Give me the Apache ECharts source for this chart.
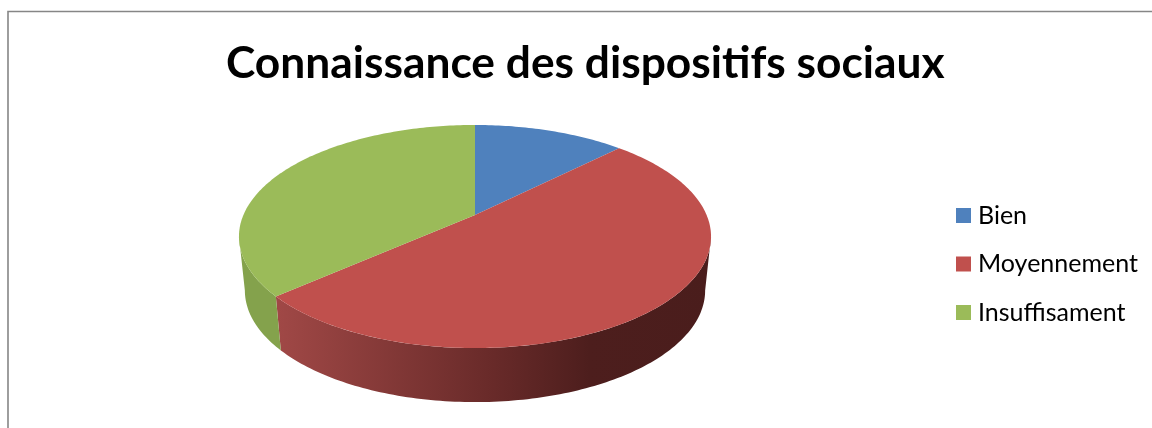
<!DOCTYPE html>
<html lang="fr">
	<head>
		<meta charset="utf-8">
		<title>Connaissance des dispositifs sociaux</title>
	</head>
	<style type="text/css">
		* {
			margin: 0;
			padding: 0;
		}

		#chart-container {
			position: relative;
			width: 1152px;
			height: 428px;
			overflow: hidden;
			background: #fff;
		}
	</style>
	<body>
		<div id="chart-container"></div>
		<script src="https://fastly.jsdelivr.net/npm/echarts@6/dist/echarts.min.js"></script>
	</body>
	<script type="text/javascript">
		var chartTitle = "Connaissance des dispositifs sociaux";
		var categories = ["Bien", "Moyennement", "Insuffisament"];
		var values = [12.5, 51, 36.5];

		var topColors = ["#4f81bd", "#c0504d", "#9bbb59"];
		var wallStops = [
			[[0, "#3f6694"], [1, "#3f6694"]],
			[[0, "#a04846"], [0.5, "#682a29"], [0.72, "#4d1e1d"], [1, "#4a1d1c"]],
			[[0, "#84a24c"], [0.1, "#7c9946"], [1, "#7c9946"]],
		];

		// perspective view of the disc, in pixels
		var cx = 475, apexY = 215;
		var persp = 0.193, radX = 231.6, radY = 107.4;
		var depth = 54, shrink = 0.975;

		var total = values.reduce(function(a, b) {
			return a + b;
		}, 0);

		function rimPoint(deg) {
			var t = deg * Math.PI / 180;
			var u = Math.sin(t), v = Math.cos(t);
			var w = 1 + persp * v;
			return [cx + radX * u / w, apexY - radY * v / w];
		}

		function wallPoint(deg) {
			var p = rimPoint(deg);
			return [cx + (p[0] - cx) * shrink, p[1] + depth];
		}

		function sampleRange(from, to, fn) {
			var pts = [];
			for (var d = from; d < to; d += 1) {
				pts.push(fn(d));
			}
			pts.push(fn(to));
			return pts;
		}

		// the wall shows only between the two widest points of the rim
		var wallFrom = Math.acos(-persp) * 180 / Math.PI;
		var wallTo = 360 - wallFrom;

		function makeRender(index) {
			var start = 0;
			for (var i = 0; i < index; i++) {
				start += values[i] / total * 360;
			}
			return function(params, api) {
				var end = start + api.value(0) / total * 360;
				var children = [];
				var from = Math.max(start, wallFrom);
				var to = Math.min(end, wallTo);
				if (to > from) {
					var upper = sampleRange(from, to, rimPoint);
					var lower = sampleRange(from, to, wallPoint).reverse();
					children.push({
						type: "polygon",
						z2: 1,
						shape: { points: upper.concat(lower) },
						style: {
							fill: {
								type: "linear",
								global: true,
								x: 278, y: 0, x2: 711, y2: 0,
								colorStops: wallStops[index].map(function(s) {
									return { offset: s[0], color: s[1] };
								}),
							},
						},
					});
				}
				var top = [[cx, apexY]].concat(sampleRange(start, end, rimPoint));
				children.push({
					type: "polygon",
					z2: 2,
					shape: { points: top },
					style: { fill: topColors[index] },
				});
				return { type: "group", children: children };
			};
		}

		var dom = document.getElementById('chart-container');
		var myChart = echarts.init(dom, null, {
			renderer: 'canvas',
			useDirtyRect: false
		});

		var option = {
			animation: false,
			title: {
				text: chartTitle,
				left: 221,
				top: 37,
				textStyle: {
					fontFamily: "Lato",
					fontWeight: "bold",
					fontSize: 44.3,
					color: "#000",
				},
			},
			legend: {
				orient: "vertical",
				left: 951,
				top: 198,
				itemWidth: 15,
				itemHeight: 15,
				itemGap: 23.5,
				icon: "rect",
				data: categories,
				textStyle: {
					fontFamily: "Lato",
					fontSize: 25,
					color: "#000",
					padding: [0, 0, 0, 2],
				},
			},
			graphic: [{
				type: "rect",
				silent: true,
				shape: { x: 8, y: 11.5, width: 1300, height: 600 },
				style: { fill: "none", stroke: "#868686", lineWidth: 1.6 },
			}],
			series: categories.map(function(name, i) {
				return {
					name: name,
					type: "custom",
					coordinateSystem: "none",
					silent: true,
					itemStyle: { color: topColors[i] },
					renderItem: makeRender(i),
					data: [values[i]],
				};
			}),
		};

		if (option && typeof option === 'object') {
			myChart.setOption(option);
		}

		window.addEventListener('resize', myChart.resize);
	</script>
</html>
